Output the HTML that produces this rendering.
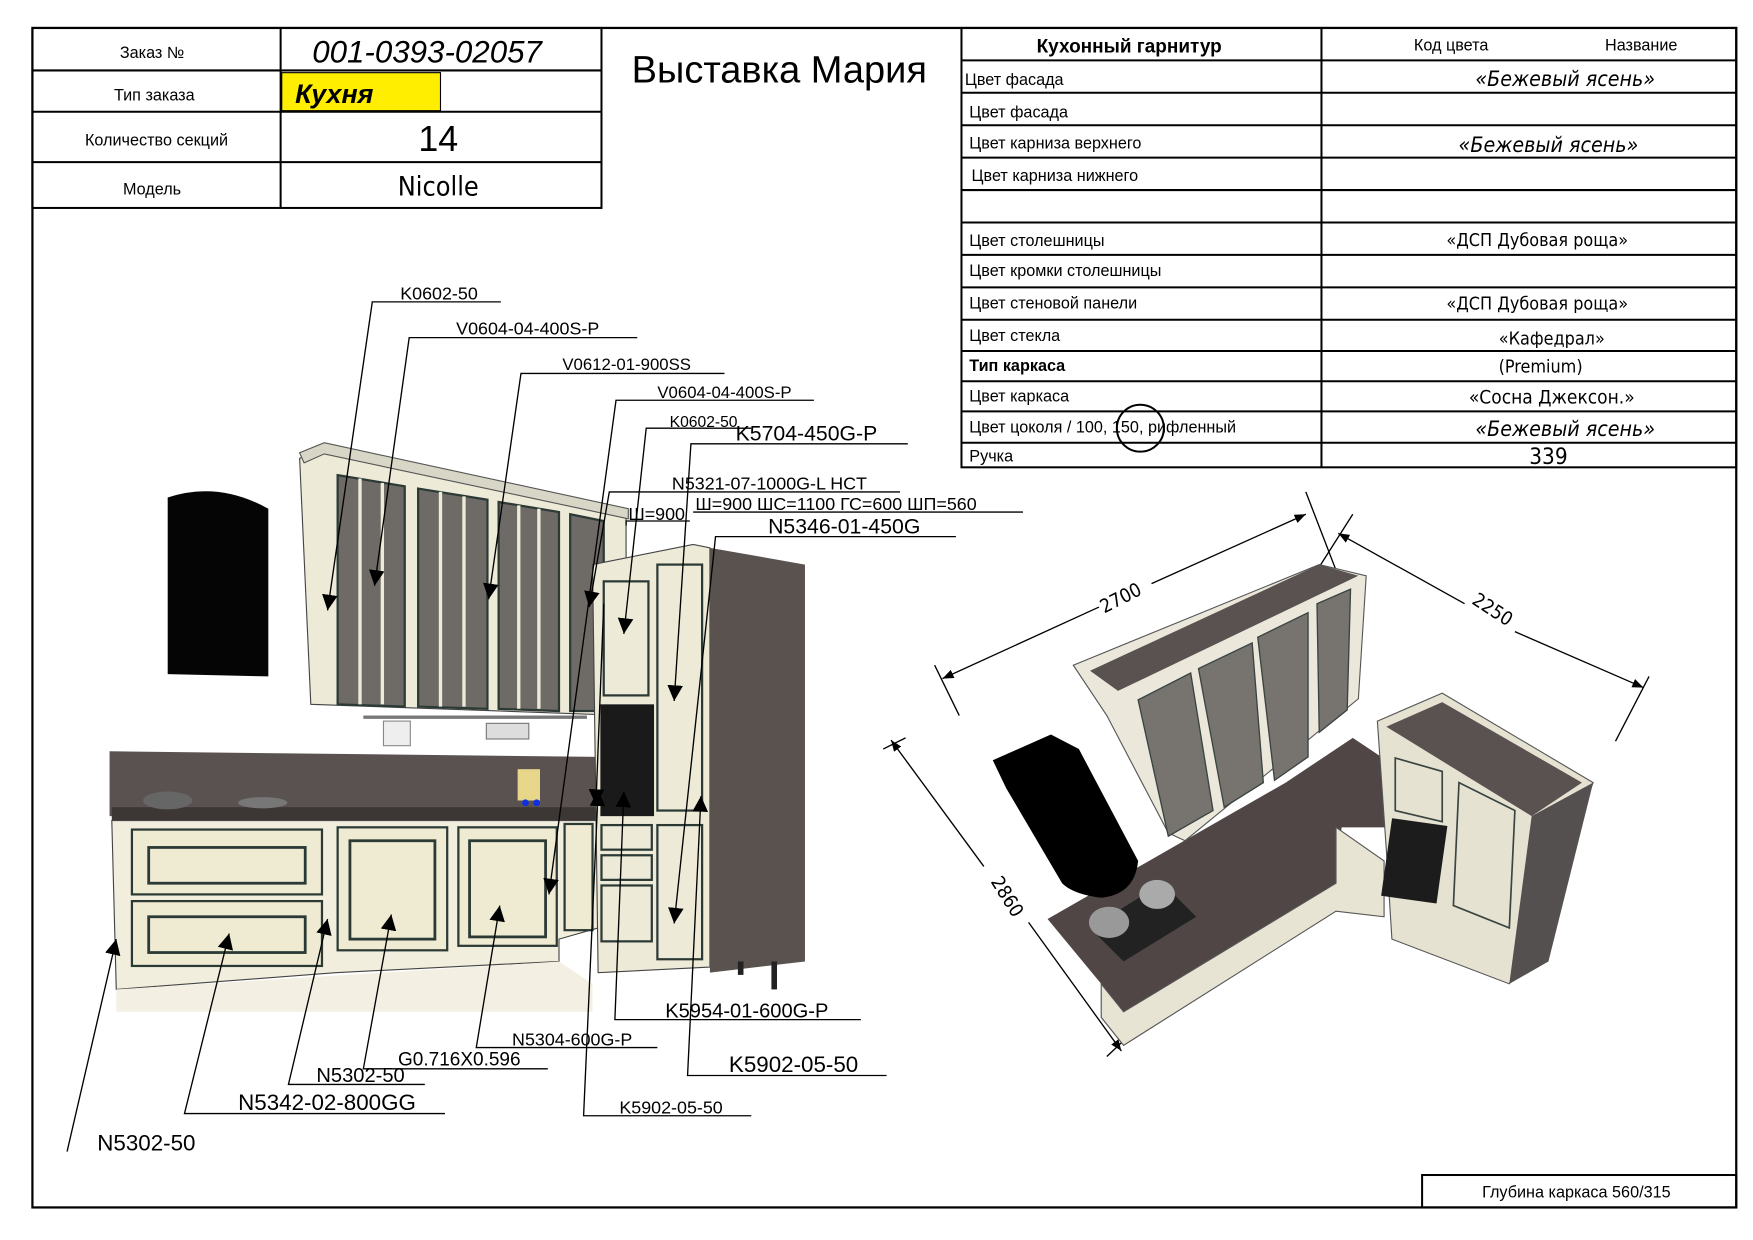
<!DOCTYPE html>
<html><head><meta charset="utf-8"><style>
html,body{margin:0;padding:0;background:#fff;}
svg{display:block}
.t{font-family:"Liberation Sans",sans-serif;}
.c{font-family:"DejaVu Sans Condensed","DejaVu Sans",sans-serif;}
</style></head><body>
<svg width="1753" height="1240" viewBox="0 0 1753 1240" xmlns="http://www.w3.org/2000/svg">
<defs>
<marker id="ah" viewBox="0 0 10 10" refX="10" refY="5" markerWidth="14" markerHeight="14" orient="auto" markerUnits="userSpaceOnUse"><path d="M0,0 L10,5 L0,10 z" fill="#000"/></marker>
<marker id="ad" viewBox="0 0 10 10" refX="10" refY="5" markerWidth="10" markerHeight="10" orient="auto-start-reverse" markerUnits="userSpaceOnUse"><path d="M0,1 L10,5 L0,9 z" fill="#000"/></marker>
</defs>
<g transform="scale(1.118,1.118)">
<rect x="29" y="25" width="1524" height="1055" fill="none" stroke="#000" stroke-width="2"/>
<g fill="none" stroke="#000" stroke-width="1.8">
<rect x="29" y="25" width="509" height="161"/>
<line x1="251" y1="25" x2="251" y2="186"/>
<line x1="29" y1="63" x2="538" y2="63"/>
<line x1="29" y1="100" x2="538" y2="100"/>
<line x1="29" y1="145" x2="538" y2="145"/>
</g>
<rect x="252" y="65" width="142" height="34" fill="#ffee00" stroke="#000" stroke-width="1"/>
<g class="t" font-size="14.5" text-anchor="middle" fill="#000">
<text x="136" y="52">Заказ №</text>
<text x="138" y="90">Тип заказа</text>
<text x="140" y="130">Количество секций</text>
<text x="136" y="174">Модель</text>
</g>
<text x="382" y="56" class="t" font-size="28" font-style="italic" text-anchor="middle">001-0393-02057</text>
<text x="264" y="92" class="t" font-size="24" font-style="italic" font-weight="bold">Кухня</text>
<text x="392" y="135" class="t" font-size="32" text-anchor="middle">14</text>
<text x="392" y="175" class="c" font-size="24" text-anchor="middle">Nicolle</text>
<text x="565" y="74" class="t" font-size="34">Выставка Мария</text>
<g fill="none" stroke="#000" stroke-width="1.8">
<rect x="860" y="25" width="693" height="393"/>
<line x1="1182" y1="25" x2="1182" y2="418"/>
<line x1="860" y1="54" x2="1553" y2="54"/>
<line x1="860" y1="83" x2="1553" y2="83"/>
<line x1="860" y1="112" x2="1553" y2="112"/>
<line x1="860" y1="141" x2="1553" y2="141"/>
<line x1="860" y1="170" x2="1553" y2="170"/>
<line x1="860" y1="199" x2="1553" y2="199"/>
<line x1="860" y1="228" x2="1553" y2="228"/>
<line x1="860" y1="257" x2="1553" y2="257"/>
<line x1="860" y1="286" x2="1553" y2="286"/>
<line x1="860" y1="314" x2="1553" y2="314"/>
<line x1="860" y1="341" x2="1553" y2="341"/>
<line x1="860" y1="368" x2="1553" y2="368"/>
<line x1="860" y1="396" x2="1553" y2="396"/>
</g>
<text x="1010" y="47" class="t" font-size="17" font-weight="bold" text-anchor="middle">Кухонный гарнитур</text>
<text x="1298" y="45" class="t" font-size="14.5" text-anchor="middle">Код цвета</text>
<text x="1468" y="45" class="t" font-size="14.5" text-anchor="middle">Название</text>
<g class="t" font-size="14.5">
<text x="863" y="76">Цвет фасада</text>
<text x="867" y="105">Цвет фасада</text>
<text x="867" y="133">Цвет карниза верхнего</text>
<text x="869" y="162">Цвет карниза нижнего</text>
<text x="867" y="220">Цвет столешницы</text>
<text x="867" y="247">Цвет кромки столешницы</text>
<text x="867" y="276">Цвет стеновой панели</text>
<text x="867" y="305">Цвет стекла</text>
<text x="867" y="332" font-weight="bold">Тип каркаса</text>
<text x="867" y="359">Цвет каркаса</text>
<text x="867" y="387">Цвет цоколя / 100, 150, рифленный</text>
<text x="867" y="413">Ручка</text>
</g>
<ellipse cx="1020" cy="383" rx="21" ry="21" fill="none" stroke="#000" stroke-width="1.8"/>
<g class="c" font-size="19" text-anchor="middle">
<text x="1400" y="77" font-style="italic">«Бежевый ясень»</text>
<text x="1385" y="136" font-style="italic">«Бежевый ясень»</text>
<text x="1375" y="220" font-size="16">«ДСП Дубовая роща»</text>
<text x="1375" y="277" font-size="16">«ДСП Дубовая роща»</text>
<text x="1388" y="308" font-size="16">«Кафедрал»</text>
<text x="1378" y="333" font-size="16">(Premium)</text>
<text x="1388" y="361" font-size="17">«Сосна Джексон.»</text>
<text x="1400" y="390" font-style="italic">«Бежевый ясень»</text>
<text x="1385" y="415" font-size="20">339</text>
</g>
<rect x="1272" y="1051" width="281" height="29" fill="none" stroke="#000" stroke-width="1.8"/>
<text x="1410" y="1071" class="t" font-size="14.5" text-anchor="middle">Глубина каркаса 560/315</text>

<path d="M150,445 Q195,430 240,455 L240,605 L150,603 Z" fill="#050505"/>
<polygon points="268,410 290,400 560,460 560,640 278,630" fill="#eeead8" stroke="#444" stroke-width="1"/>
<polygon points="268,405 290,396 562,455 562,464 290,406 272,414" fill="#d8d6c6" stroke="#555" stroke-width="1"/>
<g fill="#6e6a66" stroke="#2c3a36" stroke-width="2">
<polygon points="302,425 362,435 362,632 302,630"/>
<polygon points="374,437 436,447 436,634 374,632"/>
<polygon points="446,449 500,458 500,636 446,634"/>
<polygon points="510,460 540,466 540,636 510,636"/>
</g>
<g stroke="#eeead8" stroke-width="3">
<line x1="322" y1="428" x2="322" y2="630"/><line x1="342" y1="432" x2="342" y2="630"/>
<line x1="394" y1="440" x2="394" y2="632"/><line x1="415" y1="444" x2="415" y2="632"/>
<line x1="464" y1="452" x2="464" y2="634"/><line x1="482" y1="455" x2="482" y2="634"/>
</g>
<rect x="325" y="640" width="200" height="3" fill="#777"/>
<rect x="343" y="645" width="24" height="22" fill="#eee" stroke="#888"/>
<rect x="435" y="647" width="38" height="14" fill="#ddd" stroke="#777"/>
<polygon points="98,672 535,677 535,725 98,730" fill="#5a5250"/>
<rect x="100" y="722" width="440" height="12" fill="#3c3634"/>
<ellipse cx="150" cy="716" rx="22" ry="8" fill="#666"/>
<ellipse cx="235" cy="718" rx="22" ry="5" fill="#777"/>
<rect x="463" y="688" width="20" height="28" fill="#e8d68a"/>
<circle cx="470" cy="718" r="3" fill="#1030e0"/><circle cx="480" cy="718" r="3" fill="#1030e0"/>
<polygon points="100,734 535,734 535,830 500,840 500,860 300,870 104,885" fill="#f2eedd" stroke="#444"/>
<polygon points="104,885 500,860 530,880 530,905 104,905" fill="#f3f0e3"/>
<g fill="#efead2" stroke="#2c3a36" stroke-width="2">
<rect x="118" y="742" width="170" height="58"/>
<rect x="118" y="806" width="170" height="58"/>
<rect x="302" y="740" width="98" height="110"/>
<rect x="410" y="740" width="88" height="106"/>
<rect x="505" y="737" width="25" height="95"/>
</g>
<g fill="none" stroke="#2c3a36" stroke-width="2.5">
<rect x="133" y="758" width="140" height="32"/>
<rect x="133" y="820" width="140" height="32"/>
<rect x="313" y="752" width="76" height="88"/>
<rect x="420" y="752" width="68" height="86"/>
</g>
<polygon points="530,505 620,487 635,490 635,865 535,870" fill="#eeead8" stroke="#444"/>
<polygon points="635,490 720,505 720,860 635,870" fill="#5a524e"/>
<rect x="537" y="630" width="48" height="100" fill="#1a1a1a"/>
<g fill="none" stroke="#2c3a36" stroke-width="2">
<rect x="540" y="520" width="40" height="102"/>
<rect x="588" y="505" width="40" height="220"/>
<rect x="588" y="738" width="40" height="120"/>
<rect x="538" y="738" width="45" height="22"/>
<rect x="538" y="765" width="45" height="22"/>
<rect x="538" y="792" width="45" height="50"/>
</g>
<rect x="690" y="860" width="5" height="25" fill="#222"/>
<rect x="660" y="860" width="5" height="12" fill="#222"/>

<g stroke="#000" stroke-width="1.2" fill="none">
<polyline points="448,270 333,270 293,546" marker-end="url(#ah)"/>
<polyline points="570,302 366,302 335,524" marker-end="url(#ah)"/>
<polyline points="648,334 466,334 437,536" marker-end="url(#ah)"/>
<polyline points="728,358 551,358 491,800" marker-end="url(#ah)"/>
<polyline points="672,383 578,383 558,567" marker-end="url(#ah)"/>
<polyline points="812,397 618,397 603,627" marker-end="url(#ah)"/>
<polyline points="805,440 545,440 527,543" marker-end="url(#ah)"/>
<line x1="620" y1="458" x2="915" y2="458"/>
<polyline points="617,466 560,466 560,470"/>
<polyline points="855,480 640,480 603,826" marker-end="url(#ah)"/>
<polyline points="770,912 550,912 558,708" marker-end="url(#ah)"/>
<polyline points="793,962 615,962 627,712" marker-end="url(#ah)"/>
<polyline points="588,937 426,937 447,810" marker-end="url(#ah)"/>
<polyline points="490,956 325,956 350,818" marker-end="url(#ah)"/>
<polyline points="380,970 258,970 293,822" marker-end="url(#ah)"/>
<polyline points="398,996 165,996 205,835" marker-end="url(#ah)"/>
<polyline points="60,1030 104,840" marker-end="url(#ah)"/>
<polyline points="672,998 522,998 535,707" marker-end="url(#ah)"/>
<polyline points="540,540 533,720" marker-end="url(#ah)"/>
</g>
<g class="t" fill="#000">
<text x="358" y="268" font-size="16">K0602-50</text>
<text x="408" y="299" font-size="16">V0604-04-400S-P</text>
<text x="503" y="331" font-size="15">V0612-01-900SS</text>
<text x="588" y="356" font-size="15">V0604-04-400S-P</text>
<text x="599" y="382" font-size="14">K0602-50</text>
<text x="658" y="394" font-size="19">K5704-450G-P</text>
<text x="601" y="438" font-size="16">N5321-07-1000G-L HCT</text>
<text x="622" y="456" font-size="16">Ш=900 ШС=1100 ГС=600 ШП=560</text>
<text x="562" y="465" font-size="16">Ш=900</text>
<text x="687" y="477" font-size="19">N5346-01-450G</text>
<text x="595" y="910" font-size="18">K5954-01-600G-P</text>
<text x="652" y="959" font-size="20">K5902-05-50</text>
<text x="458" y="935" font-size="16">N5304-600G-P</text>
<text x="356" y="953" font-size="17">G0.716X0.596</text>
<text x="283" y="968" font-size="18">N5302-50</text>
<text x="213" y="993" font-size="20">N5342-02-800GG</text>
<text x="554" y="996" font-size="16">K5902-05-50</text>
<text x="87" y="1029" font-size="20">N5302-50</text>
</g>

<g stroke="#000" stroke-width="1.2" fill="none">
<line x1="843" y1="607" x2="983" y2="543" marker-start="url(#ad)"/>
<line x1="1030" y1="522" x2="1168" y2="460" marker-end="url(#ad)"/>
<line x1="1197" y1="477" x2="1310" y2="540" marker-start="url(#ad)"/>
<line x1="1355" y1="565" x2="1470" y2="615" marker-end="url(#ad)"/>
<line x1="797" y1="662" x2="880" y2="775" marker-start="url(#ad)"/>
<line x1="920" y1="825" x2="1003" y2="940" marker-end="url(#ad)"/>
<line x1="836" y1="595" x2="858" y2="640"/>
<line x1="1168" y1="440" x2="1195" y2="510"/>
<line x1="1210" y1="460" x2="1175" y2="515"/>
<line x1="1475" y1="605" x2="1445" y2="663"/>
<line x1="790" y1="670" x2="810" y2="660"/>
<line x1="990" y1="945" x2="1025" y2="912"/>
</g>
<g class="c" font-size="17" fill="#000">
<text x="1005" y="540" transform="rotate(-27 1005 540)" text-anchor="middle">2700</text>
<text x="1332" y="550" transform="rotate(33 1332 550)" text-anchor="middle">2250</text>
<text x="896" y="805" transform="rotate(58 896 805)" text-anchor="middle">2860</text>
</g>
<polygon points="937,822 1150,700 1210,660 1240,680 1240,740 1200,740 1195,790 1005,905 985,880" fill="#4f4645"/>
<polygon points="985,880 1005,905 1195,790 1195,740 1238,770 1238,820 1195,815 1005,935 985,910" fill="#e8e4d4" stroke="#555"/>
<polygon points="975,830 1040,790 1070,820 1005,860" fill="#222"/>
<ellipse cx="992" cy="825" rx="18" ry="14" fill="#999"/>
<ellipse cx="1035" cy="800" rx="16" ry="13" fill="#aaa"/>
<polygon points="960,595 1180,505 1222,515 1215,625 1060,752 1045,745 990,640" fill="#ebe8db" stroke="#555"/>
<polygon points="975,600 1180,505 1215,515 1000,618" fill="#5a5250"/>
<g fill="#77736f" stroke="#3a4440" stroke-width="1.2">
<polygon points="1018,626 1065,602 1085,725 1045,748"/>
<polygon points="1072,598 1120,575 1130,700 1095,722"/>
<polygon points="1125,570 1170,548 1170,677 1140,698"/>
<polygon points="1178,540 1208,527 1205,635 1180,655"/>
</g>
<path d="M888,680 L940,657 L965,670 L1018,770 Q1015,800 985,803 Q960,800 950,790 L900,705 Z" fill="#000"/>
<polygon points="1232,645 1290,620 1425,700 1350,880 1245,840 1240,760" fill="#e6e2d2" stroke="#555"/>
<polygon points="1240,650 1290,628 1415,700 1370,730" fill="#5a5250"/>
<polygon points="1370,730 1425,700 1385,860 1350,880" fill="#555050"/>
<rect x="1240" y="735" width="50" height="70" fill="#1c1c1c" transform="rotate(8 1265 770)"/>
<g fill="none" stroke="#3a4440" stroke-width="1.5">
<polygon points="1248,678 1290,690 1290,735 1248,725"/>
<polygon points="1305,700 1355,725 1350,830 1300,810"/>
</g>
</g>
</svg>
</body></html>
